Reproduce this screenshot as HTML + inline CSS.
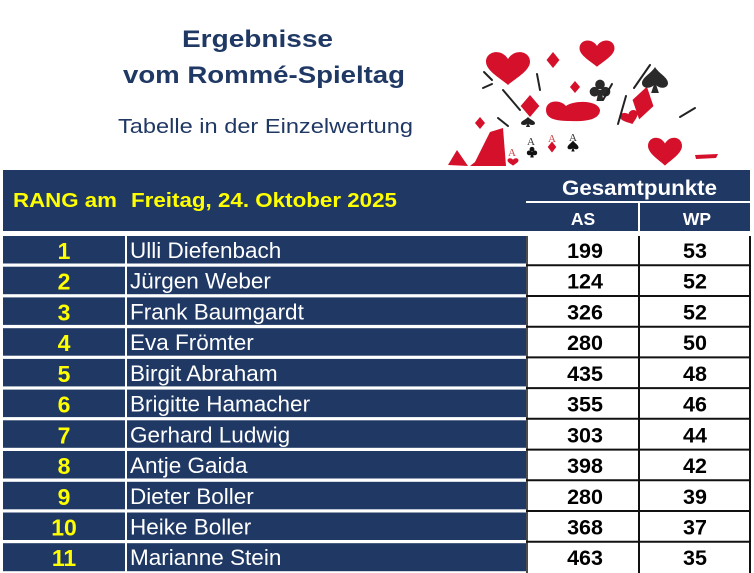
<!DOCTYPE html>
<html>
<head>
<meta charset="utf-8">
<style>
  html,body{margin:0;padding:0;background:#fff;}
  body{width:754px;height:573px;overflow:hidden;}
  svg{display:block;}
</style>
</head>
<body>
<svg width="754" height="573" viewBox="0 0 754 573" xmlns="http://www.w3.org/2000/svg" font-family="'Liberation Sans', Arial, sans-serif">
  <defs>
    <path id="heart" d="M0,0.4 C-0.15,0.25 -0.5,0.05 -0.5,-0.18 C-0.5,-0.45 -0.15,-0.52 0,-0.25 C0.15,-0.52 0.5,-0.45 0.5,-0.18 C0.5,0.05 0.15,0.25 0,0.4Z"/>
    <path id="diamond" d="M0,-0.5 L0.36,0 L0,0.5 L-0.36,0Z"/>
    <path id="spade" d="M0,-0.5 C0.15,-0.25 0.5,-0.1 0.5,0.12 C0.5,0.32 0.2,0.36 0.05,0.2 L0.15,0.5 L-0.15,0.5 L-0.05,0.2 C-0.2,0.36 -0.5,0.32 -0.5,0.12 C-0.5,-0.1 -0.15,-0.25 0,-0.5Z"/>
    <g id="club">
      <circle cx="0" cy="-0.25" r="0.22"/>
      <circle cx="-0.25" cy="0.08" r="0.22"/>
      <circle cx="0.25" cy="0.08" r="0.22"/>
      <path d="M-0.06,0 L0.06,0 L0.16,0.5 L-0.16,0.5Z"/>
    </g>
  </defs>

  <!-- Title -->
  <g fill="#1f3864">
    <text x="182" y="47" font-size="24" font-weight="bold" textLength="151" lengthAdjust="spacingAndGlyphs">Ergebnisse</text>
    <text x="123" y="83" font-size="24" font-weight="bold" textLength="282" lengthAdjust="spacingAndGlyphs">vom Rommé-Spieltag</text>
    <text x="118" y="133" font-size="20" textLength="295" lengthAdjust="spacingAndGlyphs">Tabelle in der Einzelwertung</text>
  </g>

  <!-- Card decoration -->
  <g>
    <use href="#heart" transform="translate(508,69) scale(44,40)" fill="#d5102b"/>
    <use href="#heart" transform="translate(597,54) scale(35,32)" fill="#d5102b"/>
    <use href="#diamond" transform="translate(553,60) scale(18,16)" fill="#d5102b"/>
    <use href="#diamond" transform="translate(575,87) scale(14,12)" fill="#d5102b"/>
    <use href="#diamond" transform="translate(530,106) scale(26,22)" fill="#d5102b"/>
    <use href="#diamond" transform="translate(643,103) scale(30,34) rotate(15)" fill="#d5102b"/>
    <use href="#diamond" transform="translate(480,123) scale(14,12)" fill="#d5102b"/>
    <path d="M546,110 C546,100 560,99 566,106 C574,100 598,100 600,110 C600,118 590,122 570,121 C556,121 546,119 546,110Z" fill="#d5102b"/>
    <use href="#heart" transform="translate(630,118) scale(18,16) rotate(-20)" fill="#d5102b"/>
    <path d="M475,162 L490,132 L503,128 L506,166 L470,166Z" fill="#d5102b"/>
    <path d="M448,165 L457,150 L468,166Z" fill="#d5102b"/>
    <use href="#heart" transform="translate(665,152) scale(34,34)" fill="#d5102b"/>
    <path d="M695,155 L718,154 L716,158 L696,159Z" fill="#d5102b"/>
    <use href="#club" transform="translate(600,90) scale(22,22)" fill="#2a2a2a"/>
    <use href="#spade" transform="translate(655,80) scale(26,26)" fill="#2a2a2a"/>
    <use href="#spade" transform="translate(528,122) scale(14,10)" fill="#222"/>
    <g fill="#333" font-family="'Liberation Serif', serif" font-size="11">
      <text x="527" y="145">A</text>
      <text x="548" y="142" fill="#c44">A</text>
      <text x="569" y="141">A</text>
      <text x="508" y="156" fill="#c44">A</text>
    </g>
    <use href="#club" transform="translate(532,152) scale(11,11)" fill="#111"/>
    <use href="#diamond" transform="translate(552,147) scale(12,11)" fill="#d5102b"/>
    <use href="#spade" transform="translate(573,146) scale(11,11)" fill="#111"/>
    <use href="#heart" transform="translate(513,162) scale(11,9)" fill="#d5102b"/>
    <g stroke="#222" stroke-width="2" stroke-linecap="round">
      <line x1="503" y1="90" x2="520" y2="110"/>
      <line x1="537" y1="74" x2="540" y2="90"/>
      <line x1="483" y1="88" x2="492" y2="84"/>
      <line x1="484" y1="72" x2="492" y2="80"/>
      <line x1="650" y1="65" x2="634" y2="88"/>
      <line x1="626" y1="96" x2="618" y2="124"/>
      <line x1="680" y1="117" x2="695" y2="108"/>
      <line x1="498" y1="118" x2="508" y2="126"/>
      <line x1="612" y1="84" x2="603" y2="100"/>
    </g>
  </g>

  <!-- Header -->
  <rect x="3" y="170" width="747" height="61" fill="#1f3864"/>
  <rect x="526" y="201" width="224" height="2" fill="#ffffff"/>
  <rect x="638" y="203" width="2" height="28" fill="#ffffff"/>
  <g fill="#ffff00" font-weight="bold" font-size="20">
    <text x="13" y="207" textLength="104" lengthAdjust="spacingAndGlyphs">RANG am</text>
    <text x="131" y="207" textLength="266" lengthAdjust="spacingAndGlyphs">Freitag, 24. Oktober 2025</text>
  </g>
  <g fill="#ffffff" font-weight="bold">
    <text x="562" y="195" font-size="21" textLength="155" lengthAdjust="spacingAndGlyphs">Gesamtpunkte</text>
    <text x="583" y="225" font-size="17.5" text-anchor="middle">AS</text>
    <text x="697" y="225" font-size="17.5" text-anchor="middle">WP</text>
  </g>

  <!-- Rows -->
  <g id="rows">
    <g fill="#1f3864">
      <rect x="3" y="236" width="122" height="27.5"/><rect x="127" y="236" width="399" height="27.5"/>
      <rect x="3" y="266.7" width="122" height="27.5"/><rect x="127" y="266.7" width="399" height="27.5"/>
      <rect x="3" y="297.4" width="122" height="27.5"/><rect x="127" y="297.4" width="399" height="27.5"/>
      <rect x="3" y="328.2" width="122" height="27.5"/><rect x="127" y="328.2" width="399" height="27.5"/>
      <rect x="3" y="358.9" width="122" height="27.5"/><rect x="127" y="358.9" width="399" height="27.5"/>
      <rect x="3" y="389.6" width="122" height="27.5"/><rect x="127" y="389.6" width="399" height="27.5"/>
      <rect x="3" y="420.3" width="122" height="27.5"/><rect x="127" y="420.3" width="399" height="27.5"/>
      <rect x="3" y="451.0" width="122" height="27.5"/><rect x="127" y="451.0" width="399" height="27.5"/>
      <rect x="3" y="481.8" width="122" height="27.5"/><rect x="127" y="481.8" width="399" height="27.5"/>
      <rect x="3" y="512.5" width="122" height="27.5"/><rect x="127" y="512.5" width="399" height="27.5"/>
      <rect x="3" y="543.2" width="122" height="28"/><rect x="127" y="543.2" width="399" height="28"/>
    </g>
    <g stroke="#111" stroke-width="2">
      <line x1="526" y1="265.2" x2="751" y2="265.2"/>
      <line x1="526" y1="296" x2="751" y2="296"/>
      <line x1="526" y1="326.7" x2="751" y2="326.7"/>
      <line x1="526" y1="357.4" x2="751" y2="357.4"/>
      <line x1="526" y1="388.1" x2="751" y2="388.1"/>
      <line x1="526" y1="418.8" x2="751" y2="418.8"/>
      <line x1="526" y1="449.6" x2="751" y2="449.6"/>
      <line x1="526" y1="480.3" x2="751" y2="480.3"/>
      <line x1="526" y1="511" x2="751" y2="511"/>
      <line x1="526" y1="541.8" x2="751" y2="541.8"/>
      <line x1="527" y1="236" x2="527" y2="573" stroke-width="1.5"/>
      <line x1="639" y1="236" x2="639" y2="573"/>
      <line x1="750" y1="236" x2="750" y2="573"/>
    </g>
    <g fill="#ffff00" font-weight="bold" font-size="23" text-anchor="middle">
      <text x="64" y="259">1</text>
      <text x="64" y="289.7">2</text>
      <text x="64" y="320.4">3</text>
      <text x="64" y="351.2">4</text>
      <text x="64" y="381.9">5</text>
      <text x="64" y="412.6">6</text>
      <text x="64" y="443.3">7</text>
      <text x="64" y="474">8</text>
      <text x="64" y="504.8">9</text>
      <text x="64" y="535.5">10</text>
      <text x="64" y="566.2">11</text>
    </g>
    <g fill="#ffffff" font-size="22.5">
      <text x="130" y="258">Ulli Diefenbach</text>
      <text x="130" y="288.7">Jürgen Weber</text>
      <text x="130" y="319.4">Frank Baumgardt</text>
      <text x="130" y="350.2">Eva Frömter</text>
      <text x="130" y="380.9">Birgit Abraham</text>
      <text x="130" y="411.6">Brigitte Hamacher</text>
      <text x="130" y="442.3">Gerhard Ludwig</text>
      <text x="130" y="473">Antje Gaida</text>
      <text x="130" y="503.8">Dieter Boller</text>
      <text x="130" y="534.5">Heike Boller</text>
      <text x="130" y="565.2">Marianne Stein</text>
    </g>
    <g fill="#000" font-weight="bold" font-size="21.5" text-anchor="middle">
      <text x="585" y="258">199</text>
      <text x="585" y="288.7">124</text>
      <text x="585" y="319.4">326</text>
      <text x="585" y="350.2">280</text>
      <text x="585" y="380.9">435</text>
      <text x="585" y="411.6">355</text>
      <text x="585" y="442.3">303</text>
      <text x="585" y="473">398</text>
      <text x="585" y="503.8">280</text>
      <text x="585" y="534.5">368</text>
      <text x="585" y="565.2">463</text>
    </g>
    <g fill="#000" font-weight="bold" font-size="21.5" text-anchor="middle">
      <text x="695" y="258">53</text>
      <text x="695" y="288.7">52</text>
      <text x="695" y="319.4">52</text>
      <text x="695" y="350.2">50</text>
      <text x="695" y="380.9">48</text>
      <text x="695" y="411.6">46</text>
      <text x="695" y="442.3">44</text>
      <text x="695" y="473">42</text>
      <text x="695" y="503.8">39</text>
      <text x="695" y="534.5">37</text>
      <text x="695" y="565.2">35</text>
    </g>
  </g>
</svg>
</body>
</html>
